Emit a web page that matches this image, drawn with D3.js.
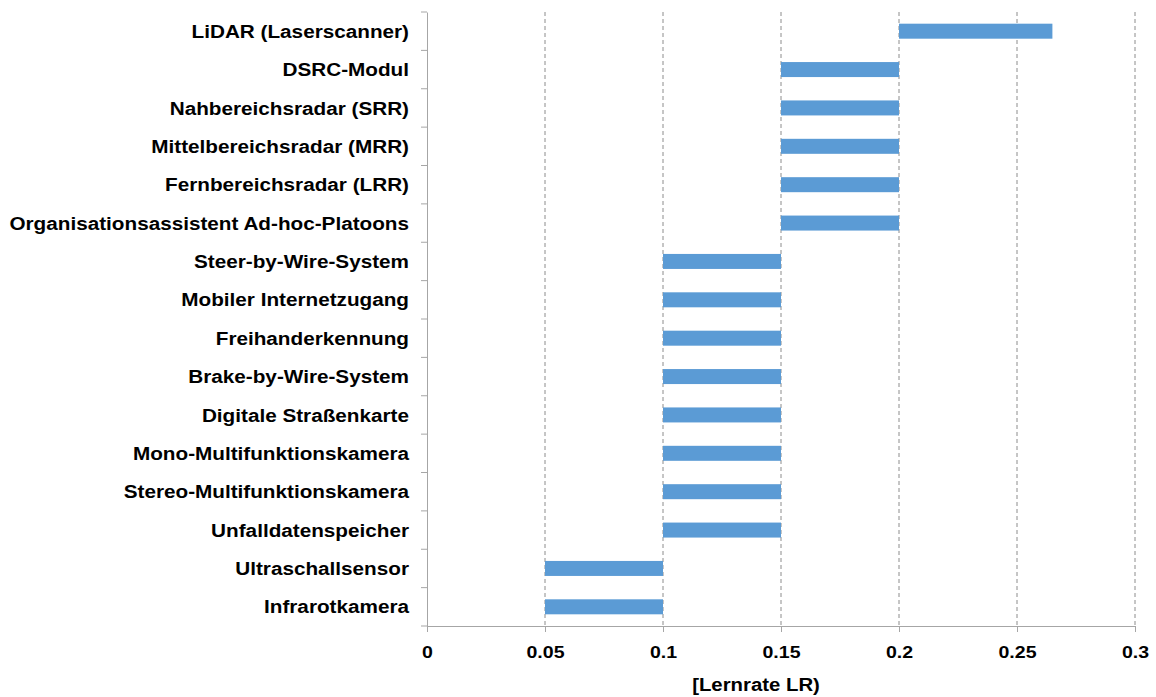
<!DOCTYPE html>
<html><head><meta charset="utf-8">
<script src="https://cdn.jsdelivr.net/npm/d3@7"></script>
<style>body{margin:0;background:#fff;} text{font-family:"Liberation Sans",Arial,sans-serif;font-weight:bold;fill:#000;}</style>
</head><body><svg id="c" width="1156" height="697"></svg>
<script>
const categories = ["LiDAR (Laserscanner)","DSRC-Modul","Nahbereichsradar (SRR)","Mittelbereichsradar (MRR)","Fernbereichsradar (LRR)","Organisationsassistent Ad-hoc-Platoons","Steer-by-Wire-System","Mobiler Internetzugang","Freihanderkennung","Brake-by-Wire-System","Digitale Straßenkarte","Mono-Multifunktionskamera","Stereo-Multifunktionskamera","Unfalldatenspeicher","Ultraschallsensor","Infrarotkamera"];
const startValues = [0.2,0.15,0.15,0.15,0.15,0.15,0.1,0.1,0.1,0.1,0.1,0.1,0.1,0.1,0.05,0.05];
const endValues = [0.265,0.2,0.2,0.2,0.2,0.2,0.15,0.15,0.15,0.15,0.15,0.15,0.15,0.15,0.1,0.1];
const xTicks = [0,0.05,0.1,0.15,0.2,0.25,0.3];
const xTitle = "[Lernrate LR)";

(function(){
const svg = d3.select("#c");
const mL = 427, mR = 1135, mT = 12, mB = 626;
const x = d3.scaleLinear().domain([0,0.3]).range([mL,mR]);
const y = d3.scaleBand().domain(categories).range([mT,mB]);

// gridlines
svg.append("g").selectAll("line").data(xTicks.slice(1)).join("line")
  .attr("x1",d=>x(d)).attr("x2",d=>x(d)).attr("y1",mT).attr("y2",mB)
  .attr("stroke","#8c8c8c").attr("stroke-width",1).attr("stroke-dasharray","4,3");

// bars
const bh = 15;
svg.append("g").selectAll("rect").data(categories).join("rect")
  .attr("x",(d,i)=>x(startValues[i]))
  .attr("width",(d,i)=>x(endValues[i])-x(startValues[i]))
  .attr("y",d=>y(d)+y.bandwidth()/2-bh/2)
  .attr("height",bh)
  .attr("fill","#5b9bd5");

// x axis
const xa = svg.append("g").attr("transform",`translate(0,${mB})`)
  .call(d3.axisBottom(x).tickValues(xTicks).tickFormat(d=>String(d)).tickSize(6).tickSizeOuter(0).tickPadding(14));
xa.select(".domain").attr("stroke","#a6a6a6");
xa.selectAll(".tick line").attr("stroke","#a6a6a6");
xa.selectAll("text").style("font-size","17px").attr("fill","#000").attr("transform","scale(1.15,1)");

// y axis
const ya = svg.append("g").attr("transform",`translate(${mL},0)`)
  .call(d3.axisLeft(y).tickValues([]).tickSizeOuter(0));
ya.select(".domain").attr("stroke","#a6a6a6");
const bounds = categories.map(c=>y(c)).concat([mB]);
svg.append("g").selectAll("line").data(bounds).join("line")
  .attr("x1",mL-6).attr("x2",mL).attr("y1",d=>d).attr("y2",d=>d)
  .attr("stroke","#a6a6a6");
svg.append("g").selectAll("text").data(categories).join("text")
  .attr("transform",d=>`translate(${mL-18},${y(d)+y.bandwidth()/2}) scale(1.12,1)`)
  .attr("dy","0.36em")
  .attr("text-anchor","end").style("font-size","18.5px").text(d=>d);

svg.append("text").attr("transform","translate(756,691) scale(1.1,1)").attr("text-anchor","middle")
  .style("font-size","18.5px").text(xTitle);
})();
</script></body></html>
